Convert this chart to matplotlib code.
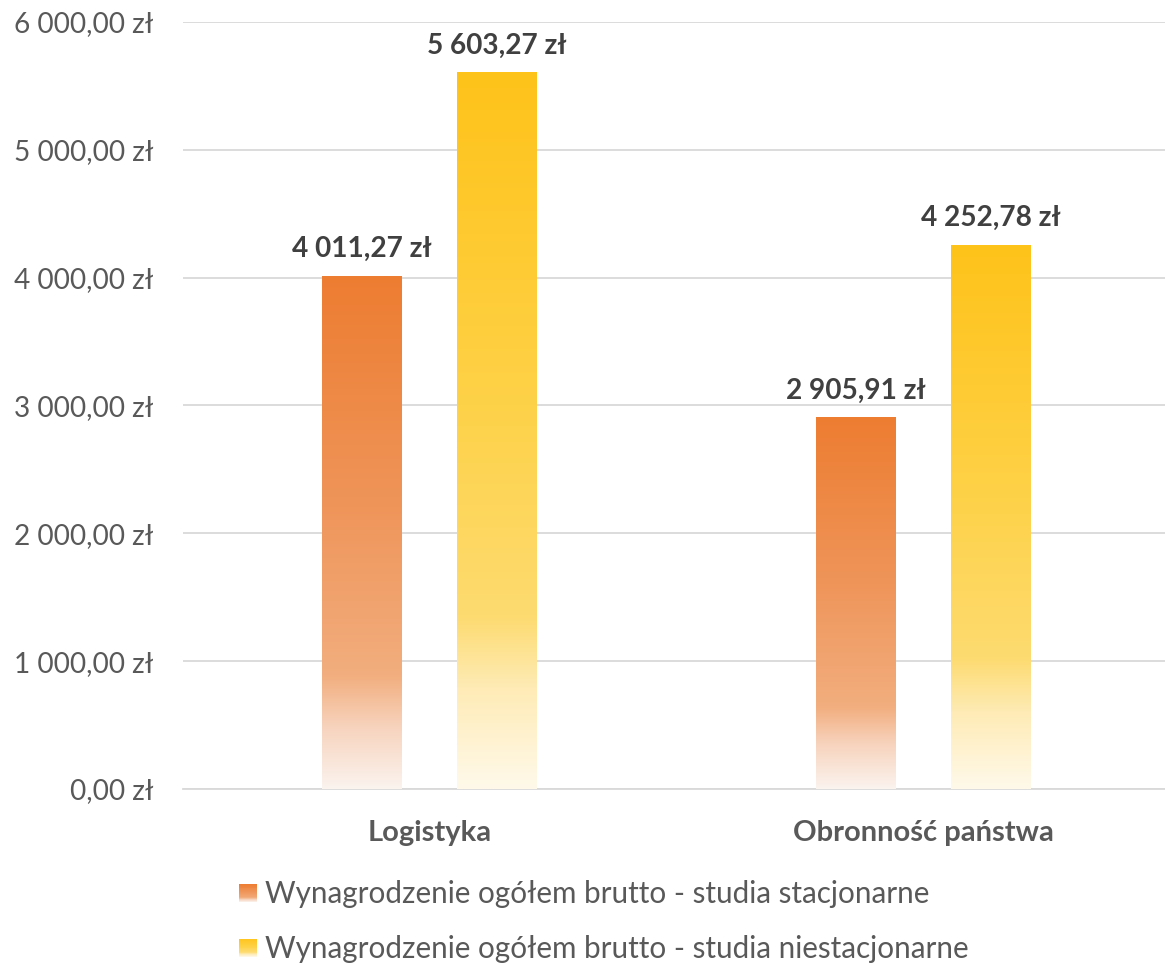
import numpy as np
import matplotlib
matplotlib.use("Agg")
import matplotlib.pyplot as plt
from matplotlib.colors import LinearSegmentedColormap
from matplotlib.patches import Rectangle
from matplotlib.ticker import FuncFormatter, MultipleLocator

categories = ["Logistyka", "Obronność państwa"]
series_names = ["Wynagrodzenie ogółem brutto - studia stacjonarne",
                "Wynagrodzenie ogółem brutto - studia niestacjonarne"]
stacjonarne = [4011.27, 2905.91]
niestacjonarne = [5603.27, 4252.78]

orange_stops = [(0.0, "#ED7D31"), (0.45, "#EF955A"), (0.78, "#F2AE7E"),
                (0.88, "#F7D3BD"), (1.0, "#FBF3EE")]
yellow_stops = [(0.0, "#FFC31A"), (0.45, "#FED146"), (0.76, "#FDDB70"),
                (0.86, "#FEEBB5"), (1.0, "#FFF9EA")]

plt.rcParams['font.family'] = ['Lato', 'DejaVu Sans']

def fmt(v):
    s = f"{v:,.2f}".replace(",", " ").replace(".", ",")
    return s + " zł"

cmap_o = LinearSegmentedColormap.from_list("o", orange_stops)
cmap_y = LinearSegmentedColormap.from_list("y", yellow_stops)

fig = plt.figure(figsize=(11.65, 9.63), dpi=100)
ax = fig.add_axes([0.157, 0.1807, 0.843, 0.7965])

x = np.arange(len(categories))
width = 0.162
off = 0.137
grad = np.linspace(0, 1, 256).reshape(-1, 1)

for vals, dx, cmap in [(stacjonarne, -off, cmap_o), (niestacjonarne, off, cmap_y)]:
    bars = ax.bar(x + dx, vals, width, color="none", edgecolor="none", zorder=3)
    for b, v in zip(bars, vals):
        x0, y0 = b.get_x(), b.get_y()
        w, h = b.get_width(), b.get_height()
        ax.imshow(grad, cmap=cmap, aspect="auto", origin="upper",
                  extent=[x0, x0 + w, y0, y0 + h], zorder=3,
                  interpolation="bilinear")
        ax.text(x0 + w / 2, y0 + h + 110, fmt(v), ha="center", va="bottom",
                fontsize=20.2, fontweight="bold", color="#404040")

ax.set_xlim(-0.5, 1.49)
ax.set_ylim(0, 6000)
ax.yaxis.set_major_locator(MultipleLocator(1000))
ax.yaxis.set_major_formatter(FuncFormatter(lambda v, p: fmt(v)))
ax.grid(axis="y", color="#D9D9D9", linewidth=1.3, zorder=0)
ax.set_axisbelow(True)
for s in ["top", "right", "left"]:
    ax.spines[s].set_visible(False)
ax.spines["bottom"].set_color("#D9D9D9")
ax.spines["bottom"].set_linewidth(1.3)
ax.tick_params(axis="y", length=0, labelsize=20.2, labelcolor="#595959", pad=21.5)
ax.tick_params(axis="x", length=0, labelsize=21, labelcolor="#595959", pad=22)
ax.set_xticks(x)
ax.set_xticklabels(categories, fontweight="bold")


class GradHandler:
    def __init__(self, cmap):
        self.cmap = cmap

    def legend_artist(self, legend, orig_handle, fontsize, handlebox):
        x0, y0 = handlebox.xdescent, handlebox.ydescent
        w, h = handlebox.width, handlebox.height
        side = 13.0
        bx = x0
        by = y0 + (h - side) / 2
        n = 20
        arts = []
        for i in range(n):
            r = Rectangle((bx, by + side * (n - 1 - i) / n), side, side / n,
                          facecolor=self.cmap((i + 0.5) / n), edgecolor="none",
                          transform=handlebox.get_transform())
            handlebox.add_artist(r)
            arts.append(r)
        return arts[0]


h1 = Rectangle((0, 0), 1, 1)
h2 = Rectangle((0, 0), 1, 1)
leg = fig.legend([h1, h2], series_names, loc="upper left",
                 bbox_to_anchor=(0.1825, 0.1135), frameon=False,
                 fontsize=21.3, labelcolor="#595959", handlelength=0.83,
                 handletextpad=0.05, labelspacing=0.9,
                 handler_map={h1: GradHandler(cmap_o), h2: GradHandler(cmap_y)})

fig.savefig("out.png", dpi=100)
